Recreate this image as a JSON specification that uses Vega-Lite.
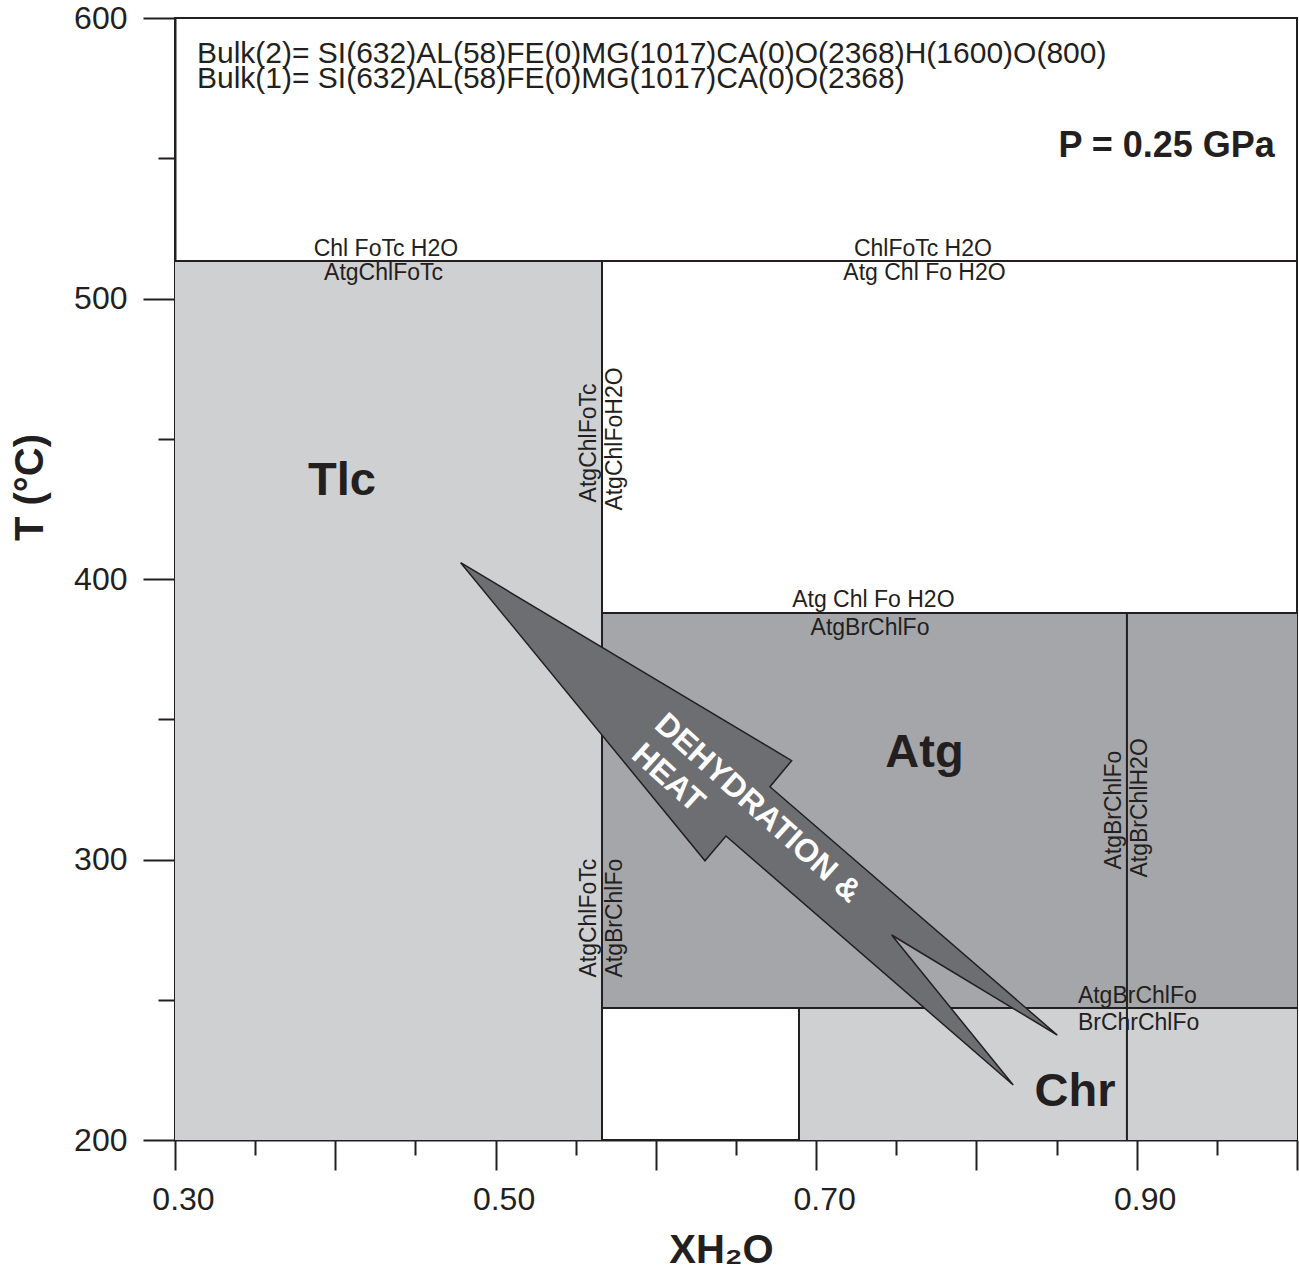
{
  "$schema": "https://vega.github.io/schema/vega-lite/v6.json",
  "width": 1122,
  "height": 1122,
  "autosize": "none",
  "padding": {"left": 175, "top": 18, "right": 2, "bottom": 133},
  "background": "white",
  "config": {
    "view": {"stroke": "#231f20", "strokeWidth": 2},
    "font": "Liberation Sans",
    "text": {"font": "Liberation Sans", "color": "#231f20"}
  },
  "datasets": {
    "regions": [
      {"x": 0.3, "x2": 0.5664, "y": 200, "y2": 513.4, "shade": "light"},
      {"x": 0.5664, "x2": 1.0, "y": 247.1, "y2": 387.9, "shade": "medium"},
      {"x": 0.6893, "x2": 1.0, "y": 200, "y2": 247.1, "shade": "light"}
    ],
    "lines": [
      {"x": 0.3, "x2": 1.0, "y": 513.4, "y2": 513.4},
      {"x": 0.5664, "x2": 0.5664, "y": 200, "y2": 513.4},
      {"x": 0.5664, "x2": 1.0, "y": 387.9, "y2": 387.9},
      {"x": 0.5664, "x2": 1.0, "y": 247.1, "y2": 247.1},
      {"x": 0.8939, "x2": 0.8939, "y": 200, "y2": 387.9},
      {"x": 0.6893, "x2": 0.6893, "y": 200, "y2": 247.1}
    ],
    "arrow": [
      {"i": 0, "x": 0.47823, "y": 405.81},
      {"i": 1, "x": 0.68472, "y": 335.22},
      {"i": 2, "x": 0.67118, "y": 325.95},
      {"i": 3, "x": 0.85041, "y": 237.43},
      {"i": 4, "x": 0.74710, "y": 273.08},
      {"i": 5, "x": 0.82296, "y": 219.61},
      {"i": 6, "x": 0.64373, "y": 308.38},
      {"i": 7, "x": 0.63063, "y": 299.57},
      {"i": 8, "x": 0.47823, "y": 405.81}
    ],
    "labels": [
      {"g": "bulk", "x": 0.3137, "y": 583.96, "t": "Bulk(2)= SI(632)AL(58)FE(0)MG(1017)CA(0)O(2368)H(1600)O(800)"},
      {"g": "bulk", "x": 0.3137, "y": 575.04, "t": "Bulk(1)= SI(632)AL(58)FE(0)MG(1017)CA(0)O(2368)"},
      {"g": "pressure", "x": 0.9862, "y": 550.45, "t": "P = 0.25 GPa"},
      {"g": "reaction", "x": 0.4316, "y": 515.2, "t": "Chl FoTc H2O"},
      {"g": "reaction", "x": 0.4301, "y": 506.6, "t": "AtgChlFoTc"},
      {"g": "reaction", "x": 0.7666, "y": 515.2, "t": "ChlFoTc H2O"},
      {"g": "reaction", "x": 0.7676, "y": 506.6, "t": "Atg Chl Fo H2O"},
      {"g": "reaction", "x": 0.7357, "y": 390.0, "t": "Atg Chl Fo H2O"},
      {"g": "reaction", "x": 0.7336, "y": 380.2, "t": "AtgBrChlFo"},
      {"g": "reactionLeft", "x": 0.8633, "y": 249.0, "t": "AtgBrChlFo"},
      {"g": "reactionLeft", "x": 0.8633, "y": 239.2, "t": "BrChrChlFo"},
      {"g": "vertical", "x": 0.5626, "y": 448.5, "t": "AtgChlFoTc"},
      {"g": "vertical", "x": 0.5789, "y": 449.9, "t": "AtgChlFoH2O"},
      {"g": "vertical", "x": 0.5626, "y": 279.1, "t": "AtgChlFoTc"},
      {"g": "vertical", "x": 0.5789, "y": 279.1, "t": "AtgBrChlFo"},
      {"g": "vertical", "x": 0.8901, "y": 317.6, "t": "AtgBrChlFo"},
      {"g": "vertical", "x": 0.9064, "y": 318.4, "t": "AtgBrChlH2O"},
      {"g": "field", "x": 0.4042, "y": 429.9, "t": "Tlc"},
      {"g": "field", "x": 0.7676, "y": 332.97, "t": "Atg"},
      {"g": "field", "x": 0.8615, "y": 212.1, "t": "Chr"},
      {"g": "arrowText", "x": 0.59819, "y": 347.24, "t": "DEHYDRATION &"},
      {"g": "arrowText", "x": 0.58384, "y": 336.54, "t": "HEAT"}
    ]
  },
  "encoding": {
    "x": {
      "field": "x", "type": "quantitative",
      "scale": {"domain": [0.3, 1.0], "nice": false, "zero": false},
      "axis": {
        "values": [0.3, 0.35, 0.4, 0.45, 0.5, 0.55, 0.6, 0.65, 0.7, 0.75, 0.8, 0.85, 0.9, 0.95, 1.0],
        "labelExpr": "round(datum.value*100) % 20 == 10 ? format(datum.value, '.2f') : ''",
        "tickSize": {"condition": {"test": "round(datum.value*100) % 10 == 0", "value": 30}, "value": 15},
        "tickColor": "#231f20", "tickWidth": 2,
        "domainColor": "#231f20", "domainWidth": 2,
        "grid": false,
        "labelFont": "Liberation Sans", "labelFontSize": 32, "labelColor": "#231f20",
        "labelPadding": 14, "labelOffset": 8, "labelFlush": false, "labelOverlap": false,
        "title": "XH₂O", "titleFont": "Liberation Sans", "titleFontSize": 40, "titleFontWeight": "bold",
        "titleColor": "#231f20", "titleX": 546, "titleY": 122, "titleBaseline": "alphabetic", "titleAlign": "center"
      }
    },
    "y": {
      "field": "y", "type": "quantitative",
      "scale": {"domain": [200, 600], "nice": false, "zero": false},
      "axis": {
        "values": [200, 250, 300, 350, 400, 450, 500, 550, 600],
        "labelExpr": "datum.value % 100 == 0 ? datum.label : ''",
        "tickSize": {"condition": {"test": "datum.value % 100 == 0", "value": 32}, "value": 17},
        "tickColor": "#231f20", "tickWidth": 2,
        "domainColor": "#231f20", "domainWidth": 2,
        "grid": false,
        "labelFont": "Liberation Sans", "labelFontSize": 32, "labelColor": "#231f20",
        "labelPadding": 16, "labelFlush": false, "labelOverlap": false,
        "title": "T (°C)", "titleFont": "Liberation Sans", "titleFontSize": 40, "titleFontWeight": "bold",
        "titleColor": "#231f20", "titleX": -133, "titleY": 469, "titleBaseline": "alphabetic", "titleAlign": "center", "titleAngle": 270
      }
    }
  },
  "layer": [
    {
      "data": {"name": "regions"},
      "mark": {"type": "rect", "strokeWidth": 0},
      "encoding": {
        "x2": {"field": "x2"},
        "y2": {"field": "y2"},
        "color": {
          "field": "shade", "type": "nominal",
          "scale": {"domain": ["light", "medium"], "range": ["#cfd0d2", "#a5a6a9"]},
          "legend": null
        }
      }
    },
    {
      "data": {"name": "lines"},
      "mark": {"type": "rule", "color": "#231f20", "strokeWidth": 2},
      "encoding": {
        "x2": {"field": "x2"},
        "y2": {"field": "y2"}
      }
    },
    {
      "data": {"name": "arrow"},
      "mark": {"type": "line", "fill": "#6d6e71", "stroke": "#231f20", "strokeWidth": 1.5, "strokeJoin": "miter"},
      "encoding": {
        "order": {"field": "i", "type": "quantitative"}
      }
    },
    {
      "data": {"name": "labels"},
      "transform": [{"filter": "datum.g == 'bulk'"}],
      "mark": {"type": "text", "fontSize": 30, "align": "left", "baseline": "alphabetic", "color": "#231f20"},
      "encoding": {"text": {"field": "t"}}
    },
    {
      "data": {"name": "labels"},
      "transform": [{"filter": "datum.g == 'pressure'"}],
      "mark": {"type": "text", "fontSize": 36, "fontWeight": "bold", "align": "right", "baseline": "alphabetic", "color": "#231f20"},
      "encoding": {"text": {"field": "t"}}
    },
    {
      "data": {"name": "labels"},
      "transform": [{"filter": "datum.g == 'reaction'"}],
      "mark": {"type": "text", "fontSize": 23, "align": "center", "baseline": "alphabetic", "color": "#231f20"},
      "encoding": {"text": {"field": "t"}}
    },
    {
      "data": {"name": "labels"},
      "transform": [{"filter": "datum.g == 'reactionLeft'"}],
      "mark": {"type": "text", "fontSize": 23, "align": "left", "baseline": "alphabetic", "color": "#231f20"},
      "encoding": {"text": {"field": "t"}}
    },
    {
      "data": {"name": "labels"},
      "transform": [{"filter": "datum.g == 'vertical'"}],
      "mark": {"type": "text", "fontSize": 23, "align": "center", "baseline": "alphabetic", "angle": 270, "color": "#231f20"},
      "encoding": {"text": {"field": "t"}}
    },
    {
      "data": {"name": "labels"},
      "transform": [{"filter": "datum.g == 'field'"}],
      "mark": {"type": "text", "fontSize": 47, "fontWeight": "bold", "align": "center", "baseline": "alphabetic", "color": "#231f20"},
      "encoding": {"text": {"field": "t"}}
    },
    {
      "data": {"name": "labels"},
      "transform": [{"filter": "datum.g == 'arrowText'"}],
      "mark": {"type": "text", "fontSize": 32, "fontWeight": "bold", "align": "left", "baseline": "alphabetic", "angle": 42, "color": "#ffffff"},
      "encoding": {"text": {"field": "t"}}
    }
  ]
}
